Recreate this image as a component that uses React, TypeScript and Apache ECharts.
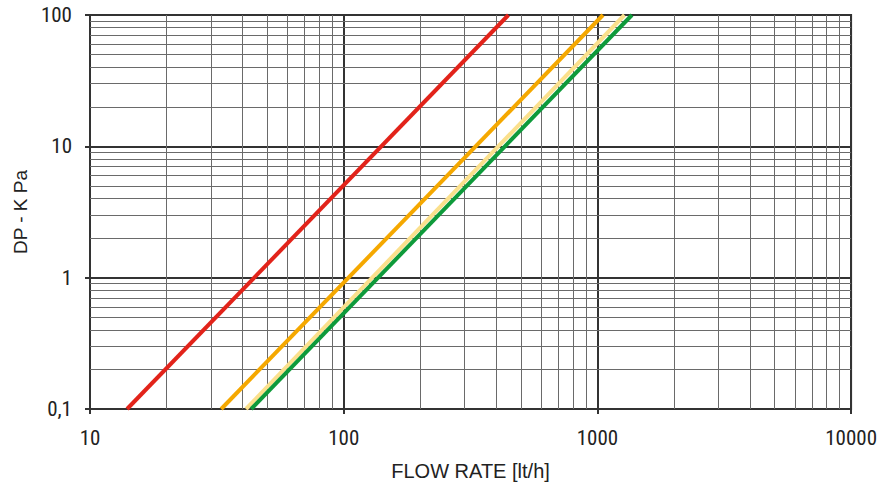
import React, { useEffect, useRef } from "react";
import * as echarts from "echarts";

// Flow rate [lt/h] at DP = 0.1 kPa and DP = 100 kPa for each curve
const redFlow = [14.0, 446];
const orangeFlow = [32.9, 1052];
const yellowFlow = [41.2, 1279];
const greenFlow = [43.2, 1368];
const dpEnds = [0.1, 100];

const xMinor = [20, 30, 40, 50, 60, 70, 80, 90, 200, 300, 400, 500, 600, 700, 800, 900, 2000, 3000, 4000, 5000, 6000, 7000, 8000, 9000];
const yMinor = [0.2, 0.3, 0.4, 0.5, 0.6, 0.7, 0.8, 0.9, 2, 3, 4, 5, 6, 7, 8, 9, 20, 30, 40, 50, 60, 70, 80, 90];

const FONT_NUM = "'Liberation Sans Narrow', 'Roboto Condensed', 'Liberation Sans', Arial, sans-serif";
const FONT_TXT = "'Liberation Sans', Arial, sans-serif";

function pairs(xs: number[], ys: number[]) {
  return xs.map((x, i) => [x, ys[i]]);
}

export default function App() {
  const ref = useRef<HTMLDivElement>(null);
  useEffect(() => {
    if (!ref.current) return;
    const chart = echarts.init(ref.current, null, { renderer: "svg" });
    const dark = "#333";
    const lineSeries = (name: string, xs: number[], color: string, z: number) => ({
      name,
      type: "line",
      data: pairs(xs, dpEnds),
      symbol: "none",
      lineStyle: { color, width: 4 },
      z,
      silent: true,
    });
    chart.setOption({
      animation: false,
      backgroundColor: "#fff",
      grid: {
        left: 90,
        right: 26,
        top: 15,
        bottom: 78,
        show: true,
        borderColor: dark,
        borderWidth: 2,
        containLabel: false,
      },
      xAxis: {
        type: "log",
        logBase: 10,
        min: 10,
        max: 10000,
        name: "FLOW RATE [lt/h]",
        nameLocation: "middle",
        nameGap: 52,
        nameTextStyle: { fontFamily: FONT_TXT, fontSize: 20, color: "#222" },
        axisLine: { show: true, lineStyle: { color: dark, width: 2 } },
        axisTick: { show: true, length: 5, lineStyle: { color: dark, width: 2 } },
        axisLabel: {
          fontFamily: FONT_NUM,
          fontSize: 21,
          color: "#222",
          margin: 18,
          formatter: (v: number) => String(v),
        },
        splitLine: { show: true, lineStyle: { color: dark, width: 2 } },
      },
      yAxis: {
        type: "log",
        logBase: 10,
        min: 0.1,
        max: 100,
        name: "DP - K Pa",
        nameLocation: "middle",
        nameGap: 58,
        nameTextStyle: { fontFamily: FONT_TXT, fontSize: 19, color: "#222" },
        axisLine: { show: true, lineStyle: { color: dark, width: 2 } },
        axisTick: { show: true, length: 5, lineStyle: { color: dark, width: 2 } },
        axisLabel: {
          fontFamily: FONT_NUM,
          fontSize: 21,
          color: "#222",
          margin: 18,
          formatter: (v: number) => String(v).replace(".", ","),
        },
        splitLine: { show: true, lineStyle: { color: dark, width: 2 } },
      },
      series: [
        {
          name: "grid",
          type: "line",
          data: [],
          z: 1,
          silent: true,
          markLine: {
            silent: true,
            symbol: ["none", "none"],
            label: { show: false },
            lineStyle: { color: "#6a6a6a", width: 1, type: "solid" },
            emphasis: { disabled: true },
            data: [
              ...xMinor.map((v) => ({ xAxis: v })),
              ...yMinor.map((v) => ({ yAxis: v })),
            ],
          },
        },
        lineSeries("red", redFlow, "#e2231a", 5),
        lineSeries("orange", orangeFlow, "#f5a800", 5),
        lineSeries("yellow", yellowFlow, "#fbe08c", 5),
        lineSeries("green", greenFlow, "#0e9a3a", 6),
      ],
    });
    return () => chart.dispose();
  }, []);
  return (
    <div
      ref={ref}
      style={{ position: "fixed", left: 0, top: 0, width: 880, height: 487 }}
    />
  );
}
